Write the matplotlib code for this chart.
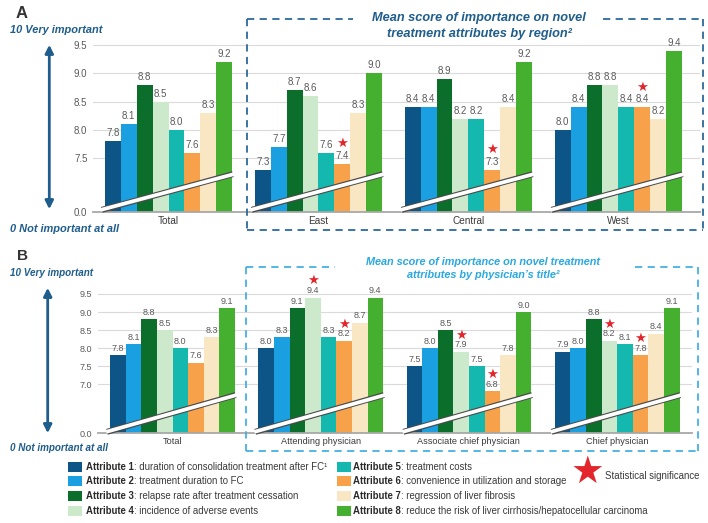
import matplotlib
matplotlib.use('Agg')
import matplotlib.pyplot as plt
from matplotlib.lines import Line2D
from matplotlib.patches import Rectangle, FancyArrowPatch

plt.rcParams['font.family'] = ['Liberation Sans', 'DejaVu Sans']

# ---------------- data ----------------
attr_names = ['Attribute 1', 'Attribute 2', 'Attribute 3', 'Attribute 4',
              'Attribute 5', 'Attribute 6', 'Attribute 7', 'Attribute 8']
attr_desc = [': duration of consolidation treatment after FC\u00b9',
             ': treatment duration to FC',
             ': relapse rate after treatment cessation',
             ': incidence of adverse events',
             ': treatment costs',
             ': convenience in utilization and storage',
             ': regression of liver fibrosis',
             ': reduce the risk of liver cirrhosis/hepatocellular carcinoma']
colors = ['#0d5586', '#1a9fe0', '#0b6e2a', '#cde9cb',
          '#14b8ae', '#f7a24b', '#f9e6c3', '#45b02f']

groups_a = ['Total', 'East', 'Central', 'West']
total_a = [7.8, 8.1, 8.8, 8.5, 8.0, 7.6, 8.3, 9.2]
east = [7.3, 7.7, 8.7, 8.6, 7.6, 7.4, 8.3, 9.0]
central = [8.4, 8.4, 8.9, 8.2, 8.2, 7.3, 8.4, 9.2]
west = [8.0, 8.4, 8.8, 8.8, 8.4, 8.4, 8.2, 9.4]
stars_a = [[], [6], [6], [6]]          # attribute numbers with significance

groups_b = ['Total', 'Attending physician', 'Associate chief physician', 'Chief physician']
total_b = [7.8, 8.1, 8.8, 8.5, 8.0, 7.6, 8.3, 9.1]
attending = [8.0, 8.3, 9.1, 9.4, 8.3, 8.2, 8.7, 9.4]
associate = [7.5, 8.0, 8.5, 7.9, 7.5, 6.8, 7.8, 9.0]
chief = [7.9, 8.0, 8.8, 8.2, 8.1, 7.8, 8.4, 9.1]
stars_b = [[], [4, 6], [4, 6], [4, 6]]

yticks_a = [7.5, 8.0, 8.5, 9.0, 9.5]
yticks_b = [7.0, 7.5, 8.0, 8.5, 9.0, 9.5]

# ---------------- figure ----------------
W, H = 708, 523
fig = plt.figure(figsize=(7.08, 5.23), dpi=100)
fig.patch.set_facecolor('white')


def fx(x):
    return x / W


def fy(y):
    return 1 - y / H


TXT = '#5a5a5a'
RED = '#e3262b'


def panel(px_left, px_right, px_top, px_bottom, ylo, yhi, c0_px, unit_px, spacing,
          groups, data, stars, yticks, val_fs, tick_fs, cat_fs, lab_off, star_off,
          band_y0, band_y1):
    ax = fig.add_axes([fx(px_left), fy(px_bottom), (px_right - px_left) / W,
                       (px_bottom - px_top) / H])
    ax.set_xlim((px_left - c0_px) / unit_px, (px_right - c0_px) / unit_px)
    ax.set_ylim(ylo, yhi)
    centers = [g * spacing for g in range(len(groups))]
    for gi, vals in enumerate(data):
        c = centers[gi]
        for j, v in enumerate(vals):
            x = c + (j - 3.5)
            ax.bar(x, v - ylo, bottom=ylo, width=1.0, color=colors[j], zorder=3,
                   linewidth=0)
            ax.annotate(f'{v:.1f}', (x, v), xytext=(0, lab_off), textcoords='offset points',
                        ha='center', va='center', fontsize=val_fs, color=TXT,
                        zorder=7, annotation_clip=False)
            if (j + 1) in stars[gi]:
                ax.annotate('\u2605', (x, v), xytext=(0, star_off), textcoords='offset points',
                            ha='center', va='center', fontsize=9.5, color=RED,
                            family='DejaVu Sans', zorder=7, annotation_clip=False)
        ax.plot([c - 4.2, c + 4.05], [band_y0, band_y1], color='#4a4a4a', lw=4.3,
                solid_capstyle='butt', zorder=5, clip_on=False)
        ax.plot([c - 4.25, c + 4.1], [band_y0, band_y1], color='white', lw=2.7,
                solid_capstyle='butt', zorder=6, clip_on=False)
    ax.set_xticks(centers)
    ax.set_xticklabels(groups)
    ax.tick_params(axis='x', length=0, pad=3, labelsize=cat_fs, labelcolor='#3a3a3a')
    ax.set_yticks([ylo] + yticks)
    ax.set_yticklabels(['0.0'] + [f'{t:.1f}' for t in yticks])
    ax.tick_params(axis='y', length=0, pad=4, labelsize=tick_fs, labelcolor=TXT)
    ax.yaxis.grid(True, color='#dadada', lw=0.8, zorder=0)
    ax.set_axisbelow(True)
    for s in ['top', 'right', 'left']:
        ax.spines[s].set_visible(False)
    ax.spines['bottom'].set_color('#a8a8a8')
    ax.spines['bottom'].set_linewidth(1.3)
    ax.spines['bottom'].set_zorder(4)
    ax.patch.set_alpha(0)
    return ax


# Panel A
ylo_a = 6.547
scale_a = 56.67
yhi_a = 9.6
top_a = 212.3 - (yhi_a - ylo_a) * scale_a
panel(93, 700, top_a, 212.3, ylo_a, yhi_a, 168.5, 15.9, 9.43,
      groups_a, [total_a, east, central, west], stars_a, yticks_a,
      7, 7, 7.2, 5.8, 14.5, 6.59, 7.22)

# Panel B
ylo_b = 5.64
scale_b = 36.1
yhi_b = 9.6
top_b = 433.3 - (yhi_b - ylo_b) * scale_b
panel(98, 692, top_b, 433.3, ylo_b, yhi_b, 172.5, 15.6, 9.5,
      groups_b, [total_b, attending, associate, chief], stars_b, yticks_b,
      6.5, 6.5, 6.6, 5.0, 12.0, 5.68, 6.70)

# ---------------- side annotations ----------------
DARKBLUE = '#1f5d8c'
LIGHTBLUE = '#2aa8e0'

fig.text(fx(21.5), fy(13.3), 'A', fontsize=12, fontweight='bold', color='#333333',
         ha='center', va='center')
fig.text(fx(10), fy(30), '10 Very important', fontsize=7.9, fontweight='bold',
         style='italic', color=DARKBLUE, ha='left', va='center')
fig.text(fx(10), fy(229), '0 Not important at all', fontsize=7.9, fontweight='bold',
         style='italic', color=DARKBLUE, ha='left', va='center')
fig.patches.append(FancyArrowPatch((fx(49.3), fy(42)), (fx(49.3), fy(212)),
                                   transform=fig.transFigure, arrowstyle='<|-|>',
                                   mutation_scale=12, color=DARKBLUE, lw=2))

fig.text(fx(22), fy(256), 'B', fontsize=11, fontweight='bold', color='#333333',
         ha='center', va='center')
fig.text(fx(10), fy(273.5), '10 Very important', fontsize=7.1, fontweight='bold',
         style='italic', color=DARKBLUE, ha='left', va='center')
fig.text(fx(10), fy(448), '0 Not important at all', fontsize=7.1, fontweight='bold',
         style='italic', color=DARKBLUE, ha='left', va='center')
fig.patches.append(FancyArrowPatch((fx(47.7), fy(285)), (fx(47.7), fy(436)),
                                   transform=fig.transFigure, arrowstyle='<|-|>',
                                   mutation_scale=12, color=DARKBLUE, lw=2))


# ---------------- dashed boxes and titles ----------------
def dashed_box(x0, y0, x1, y1, gap0, gap1, color):
    kw = dict(transform=fig.transFigure, color=color, lw=1.3, linestyle=(0, (4, 3)))
    segs = [((x0, x0), (y0, y1)), ((x1, x1), (y0, y1)), ((x0, x1), (y1, y1)),
            ((x0, gap0), (y0, y0)), ((gap1, x1), (y0, y0))]
    for xs, ys in segs:
        fig.lines.append(Line2D([fx(v) for v in xs], [fy(v) for v in ys], **kw))


dashed_box(247, 19, 703, 230, 353, 603, '#2b6a9b')
fig.text(fx(479), fy(18), 'Mean score of importance on novel', fontsize=9.2,
         fontweight='bold', style='italic', color=DARKBLUE, ha='center', va='center')
fig.text(fx(479), fy(34), 'treatment attributes by region\u00b2', fontsize=9.2,
         fontweight='bold', style='italic', color=DARKBLUE, ha='center', va='center')

dashed_box(246, 266.5, 698, 451, 335, 635, '#45b0e5')
fig.text(fx(483.5), fy(261.7), 'Mean score of importance on novel treatment', fontsize=7.8,
         fontweight='bold', style='italic', color=LIGHTBLUE, ha='center', va='center')
fig.text(fx(483.5), fy(275.5), 'attributes by physician\u2019s title\u00b2', fontsize=7.8,
         fontweight='bold', style='italic', color=LIGHTBLUE, ha='center', va='center')

# ---------------- legend ----------------
renderer = fig.canvas.get_renderer()
rows_y = [466.7, 481.0, 495.7, 510.5]
cols = [(68.3, 86.0), (337.0, 353.0)]
LEG_FS = 6.9
for i in range(8):
    col, row = divmod(i, 4)
    sx, tx = cols[col]
    y = rows_y[row]
    fig.patches.append(Rectangle((fx(sx), fy(y + 5)), 14 / W, 10 / H,
                                 transform=fig.transFigure, color=colors[i], lw=0))
    t = fig.text(fx(tx), fy(y), attr_names[i], fontsize=LEG_FS, fontweight='bold',
                 color='#2a2a2a', ha='left', va='center')
    bb = t.get_window_extent(renderer)
    fig.text(bb.x1 / W, fy(y), attr_desc[i], fontsize=LEG_FS, color='#3a3a3a',
             ha='left', va='center')

fig.text(fx(587), fy(473), '\u2605', fontsize=27, color=RED, ha='center', va='center',
         family='DejaVu Sans')
fig.text(fx(605), fy(476), 'Statistical significance', fontsize=LEG_FS, color='#3a3a3a',
         ha='left', va='center')

fig.savefig('out.png', dpi=100, facecolor='white')
